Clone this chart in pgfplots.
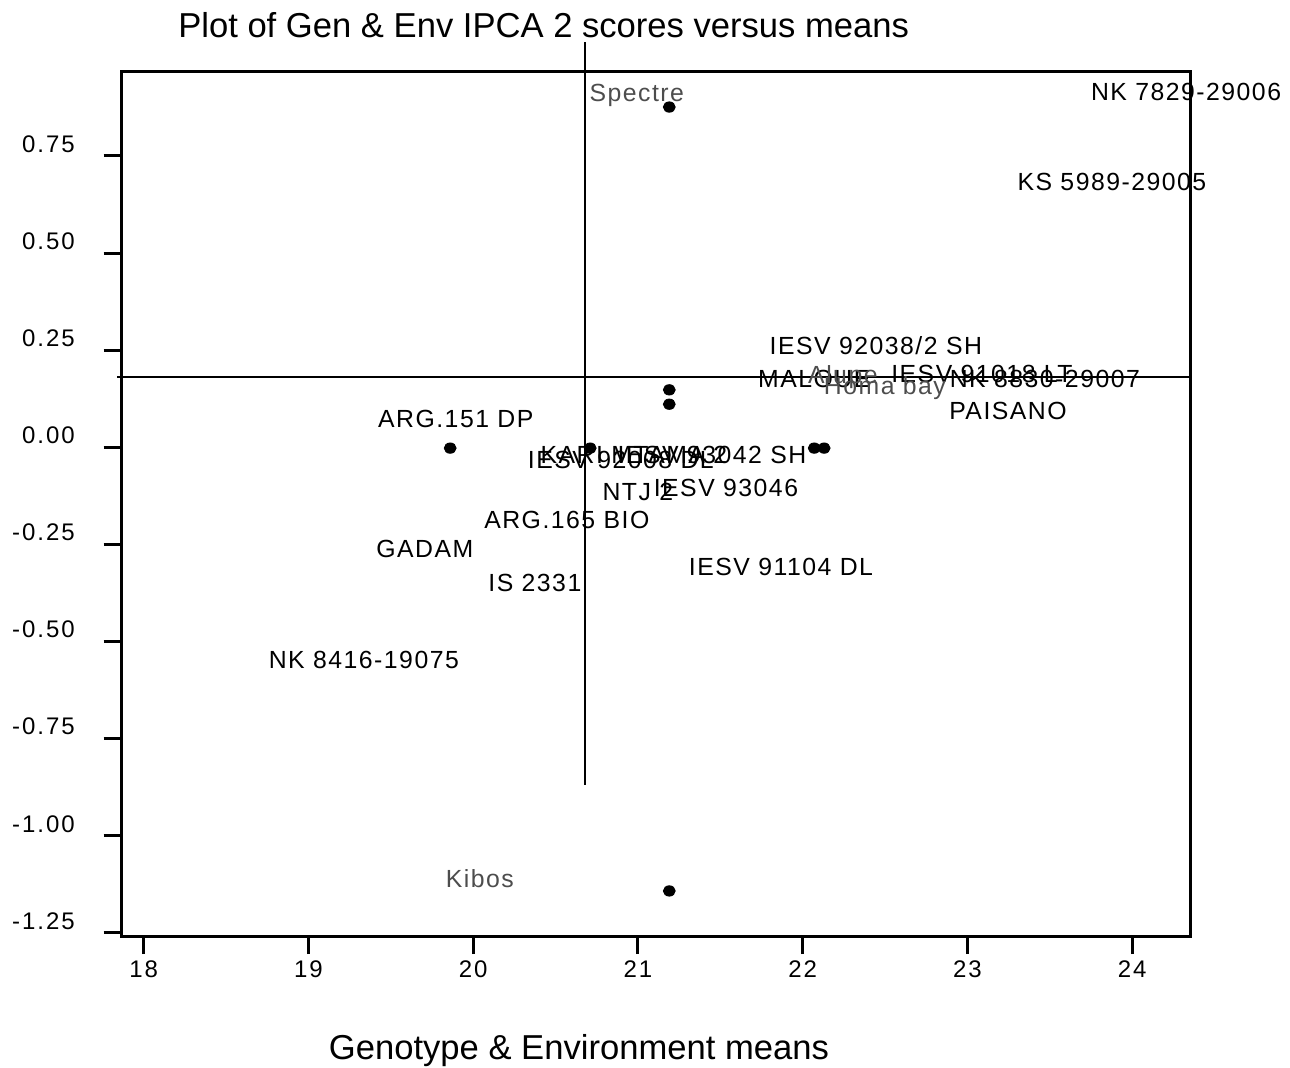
\documentclass[border=0pt]{standalone}
\usepackage{pgfplots}
\usepackage{pgfplotstable}
\pgfplotsset{compat=1.18}
\usepackage{fontspec}
\setmainfont{Liberation Sans}
\newfontfamily\lbl[LetterSpace=6]{Liberation Sans}
\newfontfamily\tkl[LetterSpace=8]{Liberation Sans}
\definecolor{envgray}{HTML}{4D4D4D}

\pgfplotstableread[col sep=comma]{
x,y,name
24.327,0.915,NK 7829-29006
23.877,0.683,KS 5989-29005
22.444,0.261,IESV 92038/2 SH
22.07,0.176,MALOUE
23.088,0.189,IESV 91018 LT
23.47,0.176,NK 8830-29007
23.246,0.093,PAISANO
19.894,0.073,ARG.151 DP
20.975,-0.020,KARI MTAMA 2
20.896,-0.033,IESV 92008 DL
21.449,-0.020,IESV 93042 SH
20.999,-0.115,NTJ 2
21.534,-0.105,IESV 93046
20.568,-0.187,ARG.165 BIO
19.706,-0.262,GADAM
20.374,-0.349,IS 2331
21.868,-0.308,IESV 91104 DL
19.336,-0.548,NK 8416-19075
}\genotypes

\pgfplotstableread[col sep=comma]{
x,y,name
20.993,0.907,Spectre
22.244,0.181,Alupe
22.499,0.153,Homa bay
20.04,-1.111,Kibos
}\environments

\begin{document}
\begin{tikzpicture}
\begin{axis}[
  scale only axis, width=534.15pt, height=432.15pt,
  xmin=17.866, xmax=24.351, ymin=-1.258, ymax=0.967,
  clip=false,
  axis line style={line width=1.5pt},
  xtick={18,19,20,21,22,23,24},
  xticklabels={18,19,20,21,22,23,24},
  ytick={-1.25,-1,-0.75,-0.5,-0.25,0,0.25,0.5,0.75},
  yticklabels={-1.25,-1.00,-0.75,-0.50,-0.25,0.00,0.25,0.50,0.75},
  xtick pos=bottom, ytick pos=left,
  tick align=outside, major tick length=9pt,
  tick style={line width=1.5pt, black},
  yticklabel style={font=\tkl\fontsize{12}{14}\selectfont, anchor=east, yshift=6pt, xshift=-11pt},
  xticklabel style={font=\tkl\fontsize{12}{14}\selectfont},
  title={Plot of Gen \& Env IPCA 2 scores versus means},
  title style={at={(axis description cs:0.395,1.040)}, anchor=center, font=\fontsize{17.3}{20}\selectfont},
  xlabel={Genotype \& Environment means},
  xlabel style={at={(axis description cs:0.428,-0.1325)}, anchor=center, font=\fontsize{17.3}{20}\selectfont},
]
\addplot[line width=1pt, black] coordinates {(20.68,1.043) (20.68,-0.869)};
\addplot[line width=1pt, black] coordinates {(17.84,0.181) (24.351,0.181)};
\addplot[only marks, mark=*, mark size=2.6pt, mark options={black, xscale=1.15}] coordinates {
(21.19,0.876) (21.19,0.148) (21.19,0.111) (19.86,-0.002) (20.71,-0.002) (22.07,-0.002) (22.13,-0.002) (21.19,-1.142)};
\addplot[draw=none, no marks, nodes near coords, point meta=explicit symbolic,
  nodes near coords style={anchor=center, inner sep=0pt, font=\lbl\fontsize{12.4}{14}\selectfont, text=black}]
  table[x=x, y=y, meta=name] {\genotypes};
\addplot[draw=none, no marks, nodes near coords, point meta=explicit symbolic,
  nodes near coords style={anchor=center, inner sep=0pt, font=\lbl\fontsize{12.4}{14}\selectfont, text=envgray}]
  table[x=x, y=y, meta=name] {\environments};
\end{axis}
\pgfresetboundingbox
\useasboundingbox ([shift={(-60.85pt,-65.5pt)}]current axis.south west) rectangle ([shift={(50pt,35.85pt)}]current axis.north east);
\end{tikzpicture}
\end{document}
